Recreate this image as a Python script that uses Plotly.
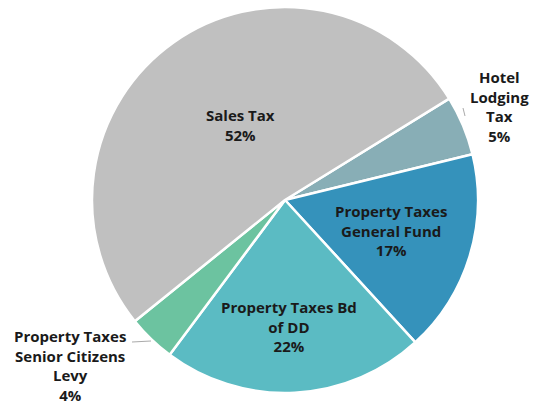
import plotly.graph_objects as go

# Revenue sources (share of total, %), in clockwise drawing order
categories = [
    "Hotel Lodging Tax",
    "Property Taxes General Fund",
    "Property Taxes Bd of DD",
    "Property Taxes Senior Citizens Levy",
    "Sales Tax",
]
shares = [5, 17, 22, 4, 52]

# How each category name is wrapped on the chart
wrapped_names = [
    "Hotel<br>Lodging<br>Tax",
    "Property Taxes<br>General Fund",
    "Property Taxes Bd<br>of DD",
    "Property Taxes<br>Senior Citizens<br>Levy",
    "Sales Tax",
]

slice_colors = ["#88aeb6", "#3592bb", "#5bbbc3", "#6cc3a0", "#c0c0c0"]

W, H = 543, 404
cx, cy, r = 285, 200, 193  # pie centre and radius in pixels


def px(x):
    return x / W


def py(y):
    return 1 - y / H


fig = go.Figure(
    go.Pie(
        labels=categories,
        values=shares,
        sort=False,
        direction="clockwise",
        rotation=58.3,
        marker=dict(colors=slice_colors, line=dict(color="white", width=2.5)),
        textinfo="none",
        hoverinfo="label+percent",
        showlegend=False,
        domain=dict(x=[px(cx - r), px(cx + r)], y=[py(cy + r), py(cy - r)]),
    )
)

# label anchor points (pixels) for each slice, same order as categories
label_pos = [(499, 106), (391, 231), (289, 326), (70, 365), (240, 125)]

for name, val, (lx, ly) in zip(wrapped_names, shares, label_pos):
    fig.add_annotation(
        x=px(lx), y=py(ly), xref="paper", yref="paper",
        text=f"<b>{name}<br>{val}%</b>",
        showarrow=False, xanchor="center", yanchor="middle",
        font=dict(family="Open Sans, sans-serif", size=15, color="#1a1a1a"),
    )

# short leader lines for the two outside labels
fig.add_shape(type="line", xref="paper", yref="paper",
              x0=px(463), y0=py(108), x1=px(465), y1=py(116),
              line=dict(color="#aaaaaa", width=1))
fig.add_shape(type="line", xref="paper", yref="paper",
              x0=px(132), y0=py(342), x1=px(151), y1=py(341),
              line=dict(color="#aaaaaa", width=1))

fig.update_layout(
    width=W, height=H,
    margin=dict(l=0, r=0, t=0, b=0),
    paper_bgcolor="white", plot_bgcolor="white",
)

fig.write_html("out.html")
